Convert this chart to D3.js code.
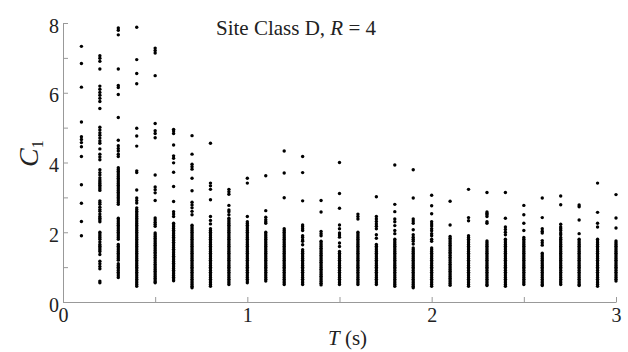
<!DOCTYPE html>
<html>
<head>
<meta charset="utf-8">
<script src="https://cdn.jsdelivr.net/npm/d3@7"></script>
<style>
  body { margin: 0; background: #fff; }
  svg text { font-family: "Liberation Serif", "Times New Roman", serif; fill: #222; }
</style>
</head>
<body>
<div id="chart"></div>
<script>
// periods T (s) where C1 was evaluated
const periods = [0.1, 0.2, 0.3, 0.4, 0.5, 0.6, 0.7, 0.8, 0.9, 1.0,
                 1.1, 1.2, 1.3, 1.4, 1.5, 1.6, 1.7, 1.8, 1.9, 2.0,
                 2.1, 2.2, 2.3, 2.4, 2.5, 2.6, 2.7, 2.8, 2.9, 3.0];

// C1 values, one row per period
const c1Values = [
  [7.33, 6.84, 6.16, 5.16, 4.74, 4.66, 4.57, 4.45, 4.17, 3.36, 2.83, 2.31, 1.90],
  [7.06, 6.99, 6.90, 6.68, 6.19, 6.10, 6.01, 5.93, 5.84, 5.75, 5.55, 5.01, 4.93, 4.85, 4.78, 4.70, 4.62, 4.55, 4.39, 4.24, 4.16, 4.08, 3.79, 3.71, 3.64, 3.56,
   3.5, 3.45, 3.4, 3.35, 3.3, 3.25, 3.2, 2.9, 2.85, 2.8, 2.72, 2.65, 2.6, 2.52, 2.45, 2.4, 2.35, 2.3,
   2.0, 1.95, 1.9, 1.85, 1.8, 1.72, 1.65, 1.6, 1.55, 1.5, 1.45, 1.36, 1.17, 1.1, 1.02, 0.95, 0.6, 0.55],
  [7.86, 7.79, 7.66, 6.68, 6.21, 6.15, 5.95, 5.29, 4.64, 4.48, 4.40, 4.33, 4.24, 4.17,
   3.85, 3.8, 3.75, 3.7, 3.65, 3.6, 3.55, 3.5, 3.45, 3.4, 3.35, 3.3, 3.25, 3.2, 3.15, 3.1, 3.05, 3.0, 2.95, 2.9, 2.85, 2.8,
   2.4, 2.35, 2.3, 2.25, 2.2, 2.15, 2.1, 2.05, 2.0, 1.95, 1.9, 1.85, 1.8,
   1.65, 1.6, 1.55, 1.5, 1.45, 1.4, 1.35, 1.3, 1.25, 1.2, 1.1, 1.05, 1.0, 0.95, 0.9, 0.85, 0.8, 0.75, 0.7],
  [7.88, 6.95, 6.55, 6.26, 4.98, 4.76, 4.47, 3.76, 3.71, 3.21, 2.98, 2.91, 2.84,
   2.7, 2.65, 2.6, 2.55, 2.5, 2.45, 2.4, 2.35, 2.3, 2.25, 2.2, 2.15, 2.1, 2.05, 2.0, 1.95, 1.9, 1.85, 1.8, 1.75, 1.7, 1.65, 1.6,
   1.55, 1.5, 1.45, 1.4, 1.35, 1.3, 1.25, 1.2, 1.15, 1.1, 1.05, 1.0, 0.95, 0.9, 0.85, 0.8, 0.75, 0.7, 0.65, 0.6, 0.55, 0.5, 0.45],
  [7.28, 7.21, 7.14, 6.49, 5.12, 4.91, 4.83, 4.71, 3.64, 3.3, 3.22, 3.13, 2.91, 2.41, 2.35, 2.29, 2.23, 2.17,
   1.98, 1.93, 1.88, 1.83, 1.78, 1.73, 1.68, 1.63, 1.58, 1.53, 1.48, 1.43, 1.38, 1.33, 1.28, 1.23, 1.18, 1.13,
   1.08, 1.03, 0.98, 0.93, 0.88, 0.83, 0.78, 0.73, 0.68, 0.63, 0.58, 0.55],
  [4.95, 4.9, 4.83, 4.5, 4.19, 4.12, 3.99, 3.72, 3.31, 2.88, 2.59, 2.52, 2.45,
   2.26, 2.21, 2.16, 2.11, 2.06, 2.01, 1.96, 1.91, 1.86, 1.81, 1.76, 1.71, 1.66, 1.61, 1.56, 1.51, 1.46, 1.41, 1.36, 1.31,
   1.26, 1.21, 1.16, 1.11, 1.06, 1.01, 0.96, 0.91, 0.86, 0.81, 0.76, 0.71, 0.66, 0.61],
  [4.77, 4.24, 3.95, 3.88, 3.81, 3.55, 3.19, 2.86, 2.78, 2.7, 2.6, 2.5,
   2.2, 2.15, 2.1, 2.05, 2.0, 1.95, 1.9, 1.85, 1.8, 1.75, 1.7, 1.65, 1.6, 1.55, 1.5, 1.45, 1.4, 1.35, 1.3, 1.25, 1.2,
   1.15, 1.1, 1.05, 1.0, 0.95, 0.9, 0.85, 0.8, 0.75, 0.7, 0.65, 0.6, 0.55, 0.5, 0.45, 0.41],
  [4.55, 3.41, 3.33, 3.23, 2.93, 2.45, 2.34, 2.24,
   2.1, 2.05, 2.0, 1.95, 1.9, 1.85, 1.8, 1.75, 1.7, 1.65, 1.6, 1.55, 1.5, 1.45, 1.4, 1.35, 1.3, 1.25, 1.2,
   1.15, 1.1, 1.05, 1.0, 0.95, 0.9, 0.85, 0.8, 0.75, 0.7, 0.65, 0.6, 0.55, 0.5, 0.45],
  [3.23, 3.16, 3.09, 2.77, 2.64, 2.59, 2.5,
   2.4, 2.35, 2.3, 2.25, 2.2, 2.15, 2.1, 2.05, 2.0, 1.95, 1.9, 1.85, 1.8, 1.75, 1.7, 1.65, 1.6, 1.55, 1.5, 1.45, 1.4,
   1.35, 1.3, 1.25, 1.2, 1.15, 1.1, 1.05, 1.0, 0.95, 0.9, 0.85, 0.8, 0.75, 0.7, 0.65, 0.6, 0.55, 0.5],
  [3.55, 3.41, 2.45,
   2.3, 2.25, 2.2, 2.15, 2.1, 2.05, 2.0, 1.95, 1.9, 1.85, 1.8, 1.75, 1.7, 1.65, 1.6, 1.55, 1.5, 1.45, 1.4,
   1.35, 1.3, 1.25, 1.2, 1.15, 1.1, 1.05, 1.0, 0.95, 0.9, 0.85, 0.8, 0.75, 0.7, 0.65, 0.6, 0.55],
  [3.62, 2.62, 2.43, 2.36, 2.3, 2.26,
   2.0, 1.95, 1.9, 1.85, 1.8, 1.75, 1.7, 1.65, 1.6, 1.55, 1.5, 1.45, 1.4,
   1.35, 1.3, 1.25, 1.2, 1.15, 1.1, 1.05, 1.0, 0.95, 0.9, 0.85, 0.8, 0.75, 0.7, 0.65, 0.6],
  [4.33, 3.7, 2.99,
   2.1, 2.05, 2.0, 1.95, 1.9, 1.85, 1.8, 1.75, 1.7, 1.65, 1.6, 1.55, 1.5, 1.45, 1.4,
   1.35, 1.3, 1.25, 1.2, 1.15, 1.1, 1.05, 1.0, 0.95, 0.9, 0.85, 0.8, 0.75, 0.7, 0.65, 0.6, 0.55, 0.5],
  [4.17, 3.71, 2.9, 2.21, 2.16, 2.1, 2.05, 1.9, 1.85, 1.78, 1.74, 1.64,
   1.5, 1.45, 1.4, 1.35, 1.3, 1.25, 1.2, 1.15, 1.1, 1.05, 1.0, 0.95, 0.9, 0.85, 0.8, 0.75, 0.7, 0.65, 0.6, 0.55, 0.5],
  [2.91, 2.58, 2.02, 1.96, 1.9,
   1.74, 1.69, 1.64, 1.59, 1.54, 1.49, 1.44, 1.39, 1.34, 1.29, 1.24, 1.19, 1.14, 1.09, 1.04, 0.99,
   0.94, 0.89, 0.84, 0.79, 0.74, 0.69, 0.64, 0.59, 0.54, 0.49],
  [4.0, 3.11, 2.69, 2.21, 2.1, 1.98, 1.92, 1.86, 1.69, 1.59,
   1.45, 1.4, 1.35, 1.3, 1.25, 1.2, 1.15, 1.1, 1.05, 1.0, 0.95, 0.9, 0.85, 0.8, 0.75, 0.7, 0.65, 0.6, 0.55, 0.5],
  [2.52, 2.45, 2.38,
   2.0, 1.95, 1.9, 1.85, 1.8, 1.75, 1.7, 1.65, 1.6, 1.55, 1.5, 1.45, 1.4,
   1.35, 1.3, 1.25, 1.2, 1.15, 1.1, 1.05, 1.0, 0.95, 0.9, 0.85, 0.8, 0.75, 0.7, 0.65, 0.6, 0.55, 0.5],
  [3.02, 2.45, 2.38, 2.31, 2.24, 2.17, 2.1, 1.93, 1.83,
   1.65, 1.6, 1.55, 1.5, 1.45, 1.4, 1.35, 1.3, 1.25, 1.2, 1.15, 1.1, 1.05, 1.0, 0.95, 0.9, 0.85, 0.8, 0.75, 0.7, 0.65, 0.6, 0.55, 0.5],
  [3.93, 2.8, 2.59, 2.38, 2.3, 2.19, 2.05, 1.96,
   1.8, 1.75, 1.7, 1.65, 1.6, 1.55, 1.5, 1.45, 1.4, 1.35, 1.3, 1.25, 1.2,
   1.15, 1.1, 1.05, 1.0, 0.95, 0.9, 0.85, 0.8, 0.75, 0.7, 0.65, 0.6, 0.55, 0.5, 0.45],
  [3.79, 2.98, 2.38, 2.32, 2.26, 2.07, 1.93, 1.86, 1.8, 1.74, 1.66,
   1.55, 1.5, 1.45, 1.4, 1.35, 1.3, 1.25, 1.2, 1.15, 1.1, 1.05, 1.0, 0.95, 0.9, 0.85, 0.8, 0.75, 0.7, 0.65, 0.6,
   0.55, 0.5, 0.45, 0.41],
  [3.06, 2.76, 2.53, 2.3, 2.24, 2.18, 2.1, 2.04, 1.96, 1.9, 1.8, 1.74,
   1.55, 1.5, 1.45, 1.4, 1.35, 1.3, 1.25, 1.2, 1.15, 1.1, 1.05, 1.0, 0.95, 0.9, 0.85, 0.8, 0.75, 0.7, 0.65, 0.6,
   0.55, 0.5, 0.45],
  [2.89, 2.21,
   1.88, 1.83, 1.78, 1.73, 1.68, 1.63, 1.58, 1.53, 1.48, 1.43, 1.38, 1.33, 1.28, 1.23, 1.18, 1.13, 1.08, 1.03,
   0.98, 0.93, 0.88, 0.83, 0.78, 0.73, 0.68, 0.63, 0.58, 0.53, 0.48],
  [3.23, 2.42, 2.33,
   1.9, 1.85, 1.8, 1.75, 1.7, 1.65, 1.6, 1.55, 1.5, 1.45, 1.4, 1.35, 1.3, 1.25, 1.2,
   1.15, 1.1, 1.05, 1.0, 0.95, 0.9, 0.85, 0.8, 0.75, 0.7, 0.65, 0.6, 0.55, 0.5, 0.45],
  [3.14, 2.58, 2.54, 2.5, 2.45, 2.3, 2.26,
   1.75, 1.7, 1.65, 1.6, 1.55, 1.5, 1.45, 1.4, 1.35, 1.3, 1.25, 1.2,
   1.15, 1.1, 1.05, 1.0, 0.95, 0.9, 0.85, 0.8, 0.75, 0.7, 0.65, 0.6, 0.55, 0.5, 0.47],
  [3.14, 2.4, 2.15, 2.08, 2.0, 1.93,
   1.8, 1.75, 1.7, 1.65, 1.6, 1.55, 1.5, 1.45, 1.4, 1.35, 1.3, 1.25, 1.2,
   1.15, 1.1, 1.05, 1.0, 0.95, 0.9, 0.85, 0.8, 0.75, 0.7, 0.65, 0.6, 0.55, 0.5, 0.45],
  [2.77, 2.5, 2.26, 2.05,
   1.85, 1.8, 1.75, 1.7, 1.65, 1.6, 1.55, 1.5, 1.45, 1.4, 1.35, 1.3, 1.25, 1.2,
   1.15, 1.1, 1.05, 1.0, 0.95, 0.9, 0.85, 0.8, 0.75, 0.7, 0.65, 0.6, 0.55, 0.5],
  [2.98, 2.42, 2.1, 2.03, 1.98, 1.76, 1.7, 1.63,
   1.4, 1.35, 1.3, 1.25, 1.2, 1.15, 1.1, 1.05, 1.0, 0.95, 0.9, 0.85, 0.8, 0.75, 0.7, 0.65, 0.6, 0.55, 0.5, 0.47],
  [3.04, 2.79, 2.23, 2.15, 2.1, 2.05, 1.98, 1.93,
   1.85, 1.8, 1.75, 1.7, 1.65, 1.6, 1.55, 1.5, 1.45, 1.4, 1.35, 1.3, 1.25, 1.2,
   1.15, 1.1, 1.05, 1.0, 0.95, 0.9, 0.85, 0.8, 0.75, 0.7, 0.65, 0.6, 0.55, 0.5],
  [2.78, 2.73, 2.35, 1.96,
   1.8, 1.75, 1.7, 1.65, 1.6, 1.55, 1.5, 1.45, 1.4, 1.35, 1.3, 1.25, 1.2,
   1.15, 1.1, 1.05, 1.0, 0.95, 0.9, 0.85, 0.8, 0.75, 0.7, 0.65, 0.6, 0.55, 0.5, 0.47],
  [3.41, 2.57, 2.26, 2.15,
   1.8, 1.75, 1.7, 1.65, 1.6, 1.55, 1.5, 1.45, 1.4, 1.35, 1.3, 1.25, 1.2,
   1.15, 1.1, 1.05, 1.0, 0.95, 0.9, 0.85, 0.8, 0.75, 0.7, 0.65, 0.6, 0.55, 0.5, 0.45],
  [3.08, 2.41, 2.12,
   1.75, 1.7, 1.65, 1.6, 1.55, 1.5, 1.45, 1.4, 1.35, 1.3, 1.25, 1.2,
   1.15, 1.1, 1.05, 1.0, 0.95, 0.9, 0.85, 0.8, 0.75, 0.7, 0.65, 0.6]
];

const xTicks = [0, 0.5, 1, 1.5, 2, 2.5, 3];
const yTicks = [0, 1, 2, 3, 4, 5, 6, 7, 8];

const margin = { top: 23, right: 12, bottom: 50, left: 63 };
const width = 628 - margin.left - margin.right;
const height = 352 - margin.top - margin.bottom;
const axisColor = "#999";

const root = d3.select("#chart")
  .append("svg")
  .attr("width", 628)
  .attr("height", 352);

const svg = root.append("g")
  .attr("transform", `translate(${margin.left},${margin.top})`);

const x = d3.scaleLinear().domain([0, 3]).range([0, width]);
const y = d3.scaleLinear().domain([0, 8]).range([height, 0]);

// flatten to one point per (T, C1)
const points = periods.flatMap((t, i) => c1Values[i].map(v => ({ t: t, v: v })));

svg.append("g")
  .selectAll("circle")
  .data(points)
  .join("circle")
  .attr("cx", d => x(d.t))
  .attr("cy", d => y(d.v))
  .attr("r", 1.7)
  .attr("fill", "#000");

// axes, ticks point inward
const xAxis = svg.append("g")
  .attr("transform", `translate(0,${height})`)
  .call(d3.axisBottom(x).tickValues(xTicks).tickSize(-5).tickSizeOuter(0).tickPadding(6)
    .tickFormat(d => Number.isInteger(d) ? d : ""));

const yAxis = svg.append("g")
  .call(d3.axisLeft(y).tickValues(yTicks).tickSize(-5).tickSizeOuter(0).tickPadding(4)
    .tickFormat(d => d % 2 === 0 ? d : ""));

[xAxis, yAxis].forEach(g => {
  g.attr("font-family", null).attr("font-size", null);
  g.select(".domain").attr("stroke", axisColor);
  g.selectAll(".tick line").attr("stroke", axisColor);
  g.selectAll(".tick text")
    .style("font-family", "'Liberation Serif', serif")
    .style("font-size", "20px")
    .attr("fill", "#222");
});
yAxis.selectAll(".tick text").attr("dy", "0.45em");

// title
const title = root.append("text")
  .attr("x", 216)
  .attr("y", 35)
  .attr("font-size", 21);
title.append("tspan").text("Site Class D, ");
title.append("tspan").attr("font-style", "italic").text("R");
title.append("tspan").text(" = 4");

// x label
const xLabel = root.append("text")
  .attr("x", 328)
  .attr("y", 345)
  .attr("font-size", 21);
xLabel.append("tspan").attr("font-style", "italic").text("T");
xLabel.append("tspan").text(" (s)");

// y label C1
const yLabel = root.append("text")
  .attr("transform", "translate(38,167) rotate(-90)")
  .attr("font-size", 28);
yLabel.append("tspan").attr("font-style", "italic").text("C");
yLabel.append("tspan").attr("font-size", 16).attr("dy", 5).text("1");
</script>
</body>
</html>
